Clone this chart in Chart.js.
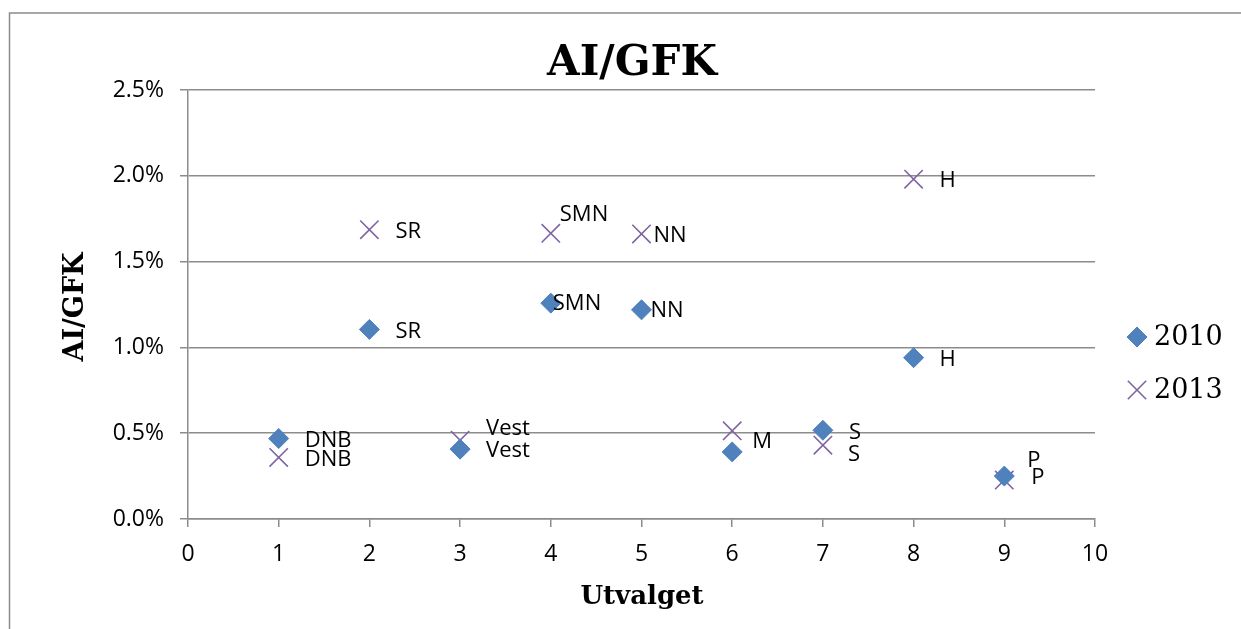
<!DOCTYPE html>
<html>
<head>
<meta charset="utf-8">
<title>AI/GFK</title>
<script src="https://cdn.jsdelivr.net/npm/chart.js@4/dist/chart.umd.min.js"></script>
<style>
  body { margin: 0; background: #fff; }
  #wrap { width: 1241px; height: 629px; }
</style>
</head>
<body>
<div id="wrap"><canvas id="aiChart" width="1241" height="629"></canvas></div>
<script>
// Data (values in %)
const xValues = [1, 2, 3, 4, 5, 6, 7, 8, 9];
const values2010 = [0.469, 1.105, 0.407, 1.258, 1.219, 0.391, 0.517, 0.94, 0.25];
const values2013 = [0.359, 1.686, 0.459, 1.665, 1.661, 0.514, 0.43, 1.98, 0.227];
const labels2010 = ['DNB', 'SR', 'Vest', 'SMN', 'NN', '', 'S', 'H', 'P'];
const labels2013 = ['DNB', 'SR', 'Vest', 'SMN', 'NN', 'M', 'S', 'H', 'P'];
const seriesNames = ['2010', '2013'];
const yMax = 2.5;
const yStep = 0.5;
const xMax = 10;

// label nudges (pixels), default is to the right of the marker
const defaultShift = [26, 2];
const labelShift2010 = { 3: [2, 1], 4: [9, 1], 8: [23, -15] };
const labelShift2013 = { 2: [26, -12], 3: [9, -19], 4: [12, 2], 5: [20, 11], 6: [25, 10], 8: [27, -2] };

const blue = '#4f81bd';
const purple = '#8064a2';
const gray = '#8c8c8c';
const sansFont = '"Open Sans", "Noto Sans", sans-serif';
const serifFont = '"DejaVu Serif", "Liberation Serif", serif';

function toPoints(values) {
  return values.map((v, i) => ({ x: xValues[i], y: v }));
}

const extras = {
  id: 'extras',
  beforeDraw(chart) {
    const ctx = chart.ctx;
    ctx.save();
    ctx.strokeStyle = gray;
    ctx.lineWidth = 1.5;
    ctx.beginPath();
    ctx.moveTo(9.5, 640);
    ctx.lineTo(9.5, 13);
    ctx.lineTo(1250, 13);
    ctx.stroke();
    ctx.restore();
  },
  afterDraw(chart) {
    const ctx = chart.ctx;
    ctx.save();

    // titles
    ctx.fillStyle = '#000';
    ctx.textAlign = 'center';
    ctx.textBaseline = 'middle';
    ctx.font = 'bold 42px ' + serifFont;
    ctx.fillText('AI/GFK', 632, 64);
    ctx.font = 'bold 26px ' + serifFont;
    ctx.fillText('Utvalget', 642, 597);
    ctx.save();
    ctx.translate(76, 307);
    ctx.rotate(-Math.PI / 2);
    ctx.font = 'bold 27px ' + serifFont;
    ctx.fillText('AI/GFK', 0, 0);
    ctx.restore();

    // point labels
    ctx.font = '22px ' + sansFont;
    ctx.textAlign = 'left';
    const texts = [labels2010, labels2013];
    const shifts = [labelShift2010, labelShift2013];
    chart.data.datasets.forEach((ds, di) => {
      chart.getDatasetMeta(di).data.forEach((pt, i) => {
        const t = texts[di][i];
        if (!t) return;
        const s = shifts[di][i] || defaultShift;
        ctx.fillText(t, pt.x + s[0], pt.y + s[1]);
      });
    });

    // legend
    ctx.font = '27px ' + serifFont;
    const rows = [337, 390];
    chart.data.datasets.forEach((ds, di) => {
      ctx.fillStyle = ds.backgroundColor;
      ctx.strokeStyle = ds.borderColor;
      ctx.lineWidth = ds.borderWidth;
      Chart.helpers.drawPoint(ctx, {
        pointStyle: ds.pointStyle,
        radius: ds.pointRadius,
        borderWidth: ds.borderWidth
      }, 1137, rows[di]);
      ctx.fillStyle = '#000';
      ctx.fillText(seriesNames[di], 1154, rows[di] + 1);
    });
    ctx.restore();
  }
};

new Chart(document.getElementById('aiChart'), {
  type: 'scatter',
  data: {
    datasets: [
      {
        label: seriesNames[0],
        data: toPoints(values2010),
        pointStyle: 'rectRot',
        pointRadius: 10,
        pointHoverRadius: 10,
        backgroundColor: blue,
        borderColor: blue,
        borderWidth: 1
      },
      {
        label: seriesNames[1],
        data: toPoints(values2013),
        pointStyle: 'crossRot',
        pointRadius: 13,
        pointHoverRadius: 13,
        backgroundColor: purple,
        borderColor: purple,
        borderWidth: 1.6
      }
    ]
  },
  options: {
    responsive: false,
    animation: false,
    events: [],
    layout: { padding: { top: 90, right: 146, left: 0, bottom: 0 } },
    plugins: {
      legend: { display: false },
      title: { display: false },
      tooltip: { enabled: false }
    },
    scales: {
      x: {
        type: 'linear',
        min: 0,
        max: xMax,
        afterFit(scale) { scale.height = 110; },
        ticks: {
          stepSize: 1,
          color: '#000',
          padding: 14,
          font: { family: sansFont, size: 23 }
        },
        grid: { drawOnChartArea: false, drawTicks: true, tickLength: 8, color: gray, lineWidth: 1.5 },
        border: { display: true, color: gray, width: 1.5 }
      },
      y: {
        min: 0,
        max: yMax,
        afterFit(scale) { scale.width = 188; },
        ticks: {
          stepSize: yStep,
          color: '#000',
          padding: 16,
          font: { family: sansFont, size: 23 },
          callback: v => v.toFixed(1) + '%'
        },
        grid: { color: gray, lineWidth: 1.5, tickLength: 8 },
        border: { display: true, color: gray, width: 1.5 }
      }
    }
  },
  plugins: [extras]
});
</script>
</body>
</html>
